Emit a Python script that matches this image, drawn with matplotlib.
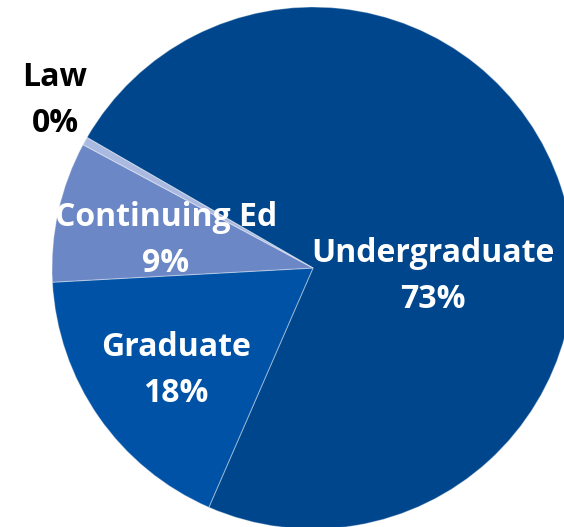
import matplotlib
matplotlib.use("Agg")
import matplotlib.pyplot as plt

categories = ["Undergraduate", "Graduate", "Continuing Ed", "Law"]
values = [73.2, 17.6, 8.7, 0.5]
pct_labels = ["73%", "18%", "9%", "0%"]
colors = ["#00468C", "#0052A6", "#6C87C6", "#A9B9E0"]

W, H = 564, 527
fig = plt.figure(figsize=(W / 100, H / 100), dpi=100)
ax = fig.add_axes([0, 0, 1, 1])

cx, cy, r = 313, H - 268, 261
wedges, _ = ax.pie(values, colors=colors, startangle=150, counterclock=False,
                   center=(cx, cy), radius=r, frame=True,
                   wedgeprops=dict(edgecolor=(1, 1, 1, 0.35), linewidth=0.8))
ax.set_xlim(0, W)
ax.set_ylim(0, H)
ax.set_aspect("equal")
ax.axis("off")

label_pos = [(433, H - 276), (176, H - 370), (166, H - 240), (55, H - 101)]
text_colors = ["white", "white", "white", "black"]
for cat, pct, (x, y), tc in zip(categories, pct_labels, label_pos, text_colors):
    ax.text(x, y, f"{cat}\n{pct}", ha="center", va="center", color=tc,
            fontsize=23, fontweight="bold", family="Open Sans", linespacing=1.52)

fig.savefig("out.png", dpi=100)
